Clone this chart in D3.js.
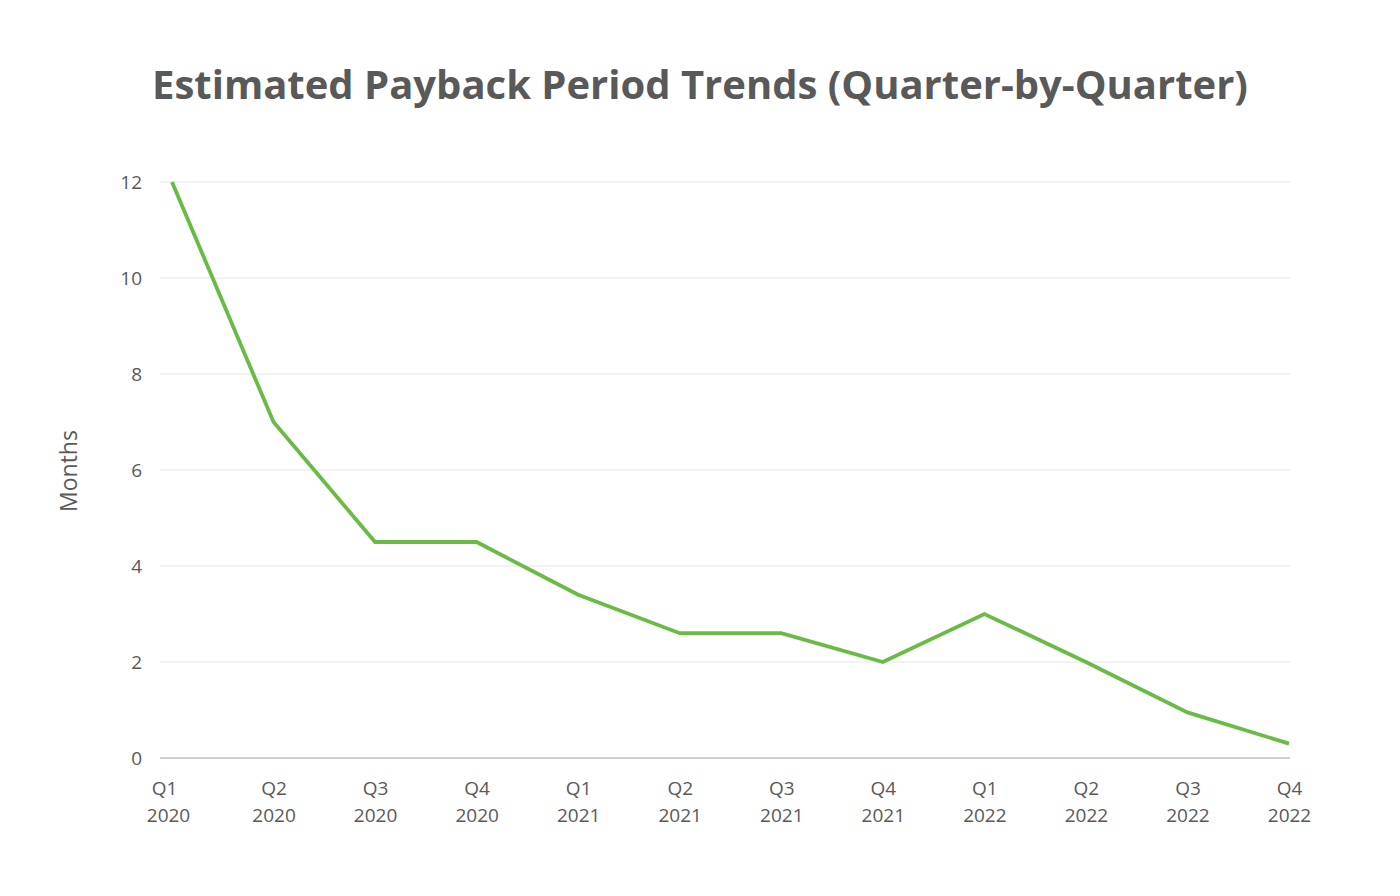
<!DOCTYPE html>
<html>
<head>
<meta charset="utf-8">
<script src="https://cdn.jsdelivr.net/npm/d3@7"></script>
<style>
  body { margin: 0; background: #fff; }
  text { font-family: 'Open Sans', sans-serif; }
</style>
</head>
<body>
<div id="app"></div>
<script>
const quarters = ['Q1', 'Q2', 'Q3', 'Q4', 'Q1', 'Q2', 'Q3', 'Q4', 'Q1', 'Q2', 'Q3', 'Q4']
const years = ['2020', '2020', '2020', '2020', '2021', '2021', '2021', '2021', '2022', '2022', '2022', '2022']
const months = [12, 7, 4.5, 4.5, 3.4, 2.6, 2.6, 2.0, 3.0, 2.0, 0.95, 0.3]
const yTicks = [0, 2, 4, 6, 8, 10, 12]

const w = 1400
const h = 896
const labels = quarters.map((q, i) => q + ' ' + years[i])

const svg = d3.select('#app')
  .append('svg')
  .attr('width', w)
  .attr('height', h)

const xScale = d3.scalePoint()
  .domain(labels)
  .range([172, 1289])

const yScale = d3.scaleLinear()
  .domain([0, 12])
  .range([758, 182])

// gridlines
svg.append('g')
  .selectAll('line')
  .data(yTicks)
  .enter()
  .append('line')
  .attr('x1', 160)
  .attr('x2', 1290)
  .attr('y1', d => yScale(d))
  .attr('y2', d => yScale(d))
  .attr('stroke', d => d === 0 ? '#bfbfbf' : '#e6e6e6')
  .attr('stroke-width', d => d === 0 ? 1.5 : 1.2)

const yAxis = d3.axisLeft(yScale).tickValues(yTicks).tickSize(0).tickPadding(0)
svg.append('g')
  .attr('transform', 'translate(142, 0)')
  .call(yAxis)
  .call(g => g.select('.domain').remove())
  .selectAll('text')
  .style('font-size', '19px')
  .style('fill', '#595959')
  .style('font-family', "'Open Sans', sans-serif")

const xAxis = d3.axisBottom(xScale).tickSize(0).tickFormat(() => '')
const xg = svg.append('g')
  .attr('transform', 'translate(0, 758)')
  .call(xAxis)
xg.select('.domain').remove()
xg.selectAll('.tick').each(function (d, i) {
  const t = d3.select(this).append('text')
    .attr('text-anchor', 'middle')
    .attr('dx', i === 0 ? -4 : 0)
    .style('font-size', '19px')
    .style('fill', '#595959')
  t.append('tspan').attr('x', i === 0 ? -4 : 0).attr('y', 37).text(quarters[i])
  t.append('tspan').attr('x', i === 0 ? -4 : 0).attr('y', 64).text(years[i])
})

svg.append('text')
  .attr('transform', 'translate(77, 471) rotate(-90)')
  .attr('text-anchor', 'middle')
  .style('font-size', '23px')
  .style('fill', '#595959')
  .text('Months')

svg.append('text')
  .attr('x', 700)
  .attr('y', 99)
  .attr('text-anchor', 'middle')
  .style('font-size', '40px')
  .style('font-weight', 'bold')
  .style('fill', '#595959')
  .text('Estimated Payback Period Trends (Quarter-by-Quarter)')

const line = d3.line()
  .x((d, i) => xScale(labels[i]))
  .y(d => yScale(d))

svg.append('path')
  .datum(months)
  .attr('d', line)
  .attr('fill', 'none')
  .attr('stroke', '#6abb46')
  .attr('stroke-width', 3.8)
</script>
</body>
</html>
